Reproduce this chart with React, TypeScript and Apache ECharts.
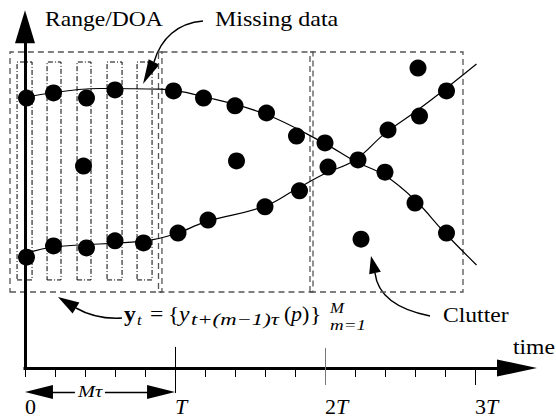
import { useEffect, useRef } from "react";
import * as echarts from "echarts";

// time axis in units of T, vertical axis in Range/DOA units
const upperTrackT = [0.01, 0.19, 0.41, 0.6, 0.99, 1.19, 1.4, 1.61, 1.81, 2.0, 2.22, 2.4, 2.6, 2.81];
const upperTrackV = [7.94, 8.09, 7.94, 8.18, 8.15, 7.94, 7.71, 7.5, 6.82, 6.62, 6.12, 5.76, 4.85, 3.97];
const lowerTrackT = [0.01, 0.19, 0.41, 0.6, 0.79, 1.02, 1.22, 1.6, 1.83, 2.02, 2.42, 2.63, 2.81];
const lowerTrackV = [3.26, 3.59, 3.53, 3.74, 3.68, 3.97, 4.35, 4.74, 5.21, 5.91, 7.0, 7.41, 8.15];
const clutterT = [0.39, 1.41, 2.24, 2.62];
const clutterV = [5.94, 6.09, 3.79, 8.82];
const upperCurveT = [0.01, 0.5, 0.9, 1.2, 1.6, 2.0, 2.2, 2.4, 2.6, 2.8, 3.01];
const upperCurveV = [7.97, 8.22, 8.2, 7.97, 7.47, 6.6, 6.08, 5.66, 4.94, 3.97, 3.03];
const lowerCurveT = [0.01, 0.2, 0.8, 1.0, 1.2, 1.6, 1.8, 2.0, 2.2, 2.4, 2.6, 2.8, 3.01];
const lowerCurveV = [3.38, 3.56, 3.74, 3.94, 4.29, 4.76, 5.24, 5.72, 6.12, 6.9, 7.53, 8.2, 8.94];

// observation windows (dashed) and embedding slots (dash-dot)
const windowStart = [-0.1, 0.89, 1.9];
const windowEnd = [0.913, 1.92, 2.92];
const windowLow = 2.235;
const windowHigh = 9.294;
const slotStart = [-0.053, 0.147, 0.347, 0.547, 0.747];
const slotEnd = [0.047, 0.24, 0.44, 0.647, 0.847];
const slotLow = 2.59;
const slotHigh = 9.0;

// axis ticks and labels
const tickValues = [0, 0.2, 0.4, 0.6, 0.8, 1, 1.2, 1.4, 1.6, 1.8, 2, 2.2, 2.4, 2.6, 2.8, 3];
const labelValues = [0, 1, 2, 3];
const labelTexts = ["{n|0}", "{i|T}", "{n|2}{i|T}", "{n|3}{i|T}"];
const labelLevel = -1.135;

const SERIF = '"Liberation Serif", "Times New Roman", Times, serif';
const SX = 1.18;

const zip = (a: number[], b: number[]) => a.map((x, i) => [x, b[i]]);

function txt(x: number, base: number, text: string, fs: number, o: any = {}) {
  return {
    type: "text",
    x,
    y: base - 0.3375 * fs,
    scaleX: o.scaleX ?? SX,
    silent: true,
    style: {
      text,
      fontSize: fs,
      fontFamily: SERIF,
      fontStyle: o.italic ? "italic" : "normal",
      fontWeight: o.bold ? "bold" : "normal",
      fill: "#000",
      align: "left",
      verticalAlign: "middle",
    },
  };
}

function head(tx: number, ty: number, bx: number, by: number, hw: number) {
  const dx = tx - bx;
  const dy = ty - by;
  const d = Math.hypot(dx, dy);
  const ux = dx / d;
  const uy = dy / d;
  return {
    type: "polygon",
    silent: true,
    shape: {
      points: [
        [tx, ty],
        [bx - uy * hw, by + ux * hw],
        [bx + uy * hw, by - ux * hw],
      ],
    },
    style: { fill: "#000" },
  };
}

function curve(x1: number, y1: number, c1x: number, c1y: number, c2x: number, c2y: number, x2: number, y2: number) {
  return {
    type: "bezierCurve",
    silent: true,
    shape: { x1, y1, cpx1: c1x, cpy1: c1y, cpx2: c2x, cpy2: c2y, x2, y2 },
    style: { stroke: "#000", lineWidth: 1.5, fill: null },
  };
}

const solid = (w: number, c = "#000") => ({ type: "solid", width: w, color: c });

function buildOption() {
  const axisLines = [
    [
      { coord: [-0.01, 0], symbol: "none", lineStyle: solid(3) },
      { coord: [3.28, 0], symbol: "triangle", symbolSize: [17, 40] },
    ],
    [
      { coord: [0, 0], symbol: "none", lineStyle: solid(3) },
      { coord: [0, 10.04], symbol: "triangle", symbolSize: [20, 33] },
    ],
    [
      { coord: [1, 0.62], symbol: "none", lineStyle: solid(1) },
      { coord: [1, -0.735], symbol: "none" },
    ],
    [
      { coord: [2, 0.59], symbol: "none", lineStyle: solid(1, "#777") },
      { coord: [2, -0.5], symbol: "none" },
    ],
    [
      { coord: [3, 0], symbol: "none", lineStyle: solid(1) },
      { coord: [3, -0.5], symbol: "none" },
    ],
    [
      { coord: [0.333, -0.706], symbol: "none", lineStyle: solid(1.3) },
      { coord: [0.093, -0.706], symbol: "triangle", symbolSize: [14, 28] },
    ],
    [
      { coord: [0.533, -0.706], symbol: "none", lineStyle: solid(1.3) },
      { coord: [0.907, -0.706], symbol: "triangle", symbolSize: [14, 28] },
    ],
  ];

  const windows = windowStart.map((s, i) => [
    {
      coord: [s, windowLow],
      itemStyle: { color: "rgba(0,0,0,0)", borderColor: "#555", borderWidth: 1.3, borderType: [6, 4] },
    },
    { coord: [windowEnd[i], windowHigh] },
  ]);
  const slots = slotStart.map((s, i) => [
    {
      coord: [s, slotLow],
      itemStyle: { color: "rgba(0,0,0,0)", borderColor: "#000", borderWidth: 1, borderType: [5, 2, 1, 2] },
    },
    { coord: [slotEnd[i], slotHigh] },
  ]);

  const tickLabels = labelValues.map((v, i) => ({ name: labelTexts[i], coord: [v + 0.003, labelLevel] }));

  const dot = { symbol: "circle", symbolSize: 17, itemStyle: { color: "#000", opacity: 1 }, z: 4 };
  const curveStyle = {
    type: "line",
    smooth: 0.4,
    symbol: "none",
    showSymbol: false,
    lineStyle: { color: "#000", width: 1.2 },
    z: 3,
    silent: true,
  };

  const graphics: any[] = [
    txt(45, 26, "Range/DOA", 20),
    txt(215, 26, "Missing data", 20, { scaleX: 1.2 }),
    txt(513, 354, "time", 20),
    txt(443, 322, "Clutter", 20),
    txt(78, 397, "M\u03C4", 17, { italic: true, scaleX: 1.2 }),
    // equation
    txt(124, 321, "y", 20, { bold: true }),
    txt(137, 325, "t", 14, { italic: true }),
    txt(150, 321, "=", 20),
    txt(168, 321, "{", 20),
    txt(179, 321, "y", 20, { italic: true }),
    txt(191, 325, "t+(m\u22121)\u03C4", 16, { italic: true, scaleX: 1.42 }),
    txt(284, 321, "(", 20, { scaleX: 1.1 }),
    txt(291, 321, "p", 20, { italic: true, scaleX: 1.1 }),
    txt(302, 321, ")", 20, { scaleX: 1.1 }),
    txt(310, 321, "}", 20),
    txt(330, 313, "M", 14, { italic: true, scaleX: 1.2 }),
    txt(330, 330, "m=1", 14, { italic: true, scaleX: 1.35 }),
    // arrows
    curve(203, 21, 178, 23, 161, 38, 154, 62),
    head(143, 84, 154, 62, 6),
    curve(122, 318, 104, 319, 88, 315, 76, 308),
    head(58, 297, 76, 308, 6.5),
    curve(430, 316, 400, 310, 378, 298, 375, 273),
    head(371, 256, 375, 273, 6),
  ];

  return {
    animation: false,
    textStyle: { fontFamily: SERIF },
    grid: { left: 7, right: 21, top: 11, bottom: 0, containLabel: false, outerBoundsMode: "none" },
    xAxis: {
      type: "value",
      min: -0.12,
      max: 3.4,
      axisLine: { show: false, onZero: true },
      splitLine: { show: false },
      axisTick: { show: true, length: 9, customValues: tickValues, lineStyle: { color: "#000", width: 1 } },
      axisLabel: { show: false },
    },
    yAxis: {
      type: "value",
      min: -1.5,
      max: 10.5,
      axisLine: { show: false },
      axisTick: { show: false },
      axisLabel: { show: false },
      splitLine: { show: false },
    },
    series: [
      {
        ...curveStyle,
        name: "track 1",
        data: zip(upperCurveT, upperCurveV),
        markLine: {
          silent: true,
          symbol: ["none", "none"],
          label: { show: false },
          emphasis: { disabled: true },
          lineStyle: { type: "solid", color: "#000", width: 1 },
          data: axisLines,
        },
        markPoint: {
          silent: true,
          symbol: "circle",
          symbolSize: 1,
          itemStyle: { color: "rgba(0,0,0,0)" },
          emphasis: { disabled: true },
          label: {
            show: true,
            position: [0, 0],
            align: "left",
            verticalAlign: "middle",
            formatter: (p: any) => p.name,
            rich: {
              n: { fontFamily: SERIF, fontSize: 22, color: "#000" },
              i: { fontFamily: SERIF, fontSize: 22, fontStyle: "italic", color: "#000" },
            },
          },
          data: tickLabels,
        },
      },
      { ...curveStyle, name: "track 2", data: zip(lowerCurveT, lowerCurveV) },
      { type: "scatter", name: "track 1 obs", ...dot, data: zip(upperTrackT, upperTrackV) },
      {
        type: "scatter",
        name: "track 2 obs",
        ...dot,
        data: zip(lowerTrackT, lowerTrackV),
        markArea: { silent: true, label: { show: false }, emphasis: { disabled: true }, data: slots },
      },
      {
        type: "scatter",
        name: "clutter",
        ...dot,
        data: zip(clutterT, clutterV),
        markArea: { silent: true, label: { show: false }, emphasis: { disabled: true }, data: windows },
      },
    ],
    graphic: graphics,
  };
}

export default function App() {
  const ref = useRef<HTMLDivElement>(null);
  useEffect(() => {
    if (!ref.current) return;
    const chart = echarts.init(ref.current, null, { renderer: "svg" });
    chart.setOption(buildOption() as any);
    return () => chart.dispose();
  }, []);
  return (
    <div
      ref={ref}
      style={{ position: "fixed", left: 0, top: 0, width: 556, height: 419, background: "#fff" }}
    />
  );
}
